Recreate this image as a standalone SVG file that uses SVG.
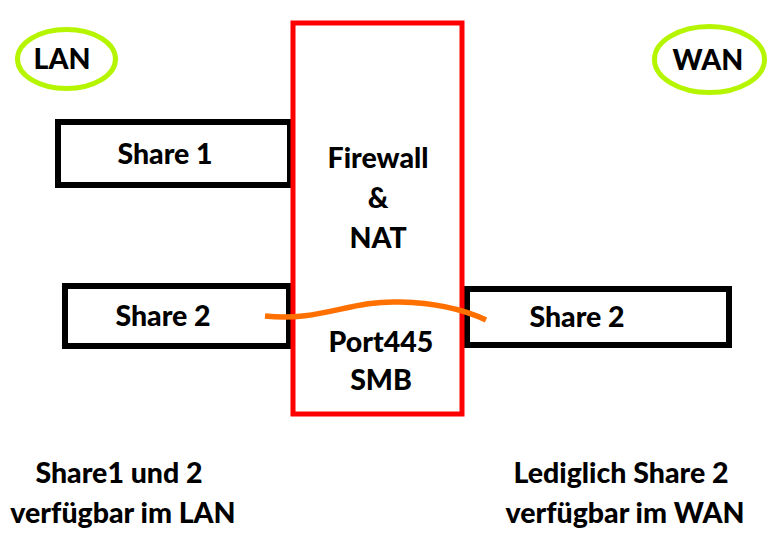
<svg xmlns="http://www.w3.org/2000/svg" width="783" height="536" viewBox="0 0 783 536">
<style>
text{font-family:Lato,"Open Sans","Liberation Sans",sans-serif;font-weight:900;font-size:28.5px;fill:#000;text-anchor:middle}
.box{fill:none;stroke:#000;stroke-width:6}
.net{fill:none;stroke:#b5f500;stroke-width:5}
</style>
<rect width="783" height="536" fill="#fff"/>
<g id="lan"><ellipse class="net" cx="66.5" cy="59" rx="49" ry="29.5"/><text x="62" y="69">LAN</text></g>
<g id="wan"><ellipse class="net" cx="709.5" cy="59.5" rx="55" ry="33"/><text x="708" y="70">WAN</text></g>
<g id="share1"><rect class="box" x="58" y="122" width="232" height="63"/><text x="165" y="164">Share 1</text></g>
<g id="share2-lan"><rect class="box" x="65" y="286" width="224" height="60"/><text x="163" y="326">Share 2</text></g>
<g id="share2-wan"><rect class="box" x="467" y="289" width="262" height="56"/><text x="577" y="327">Share 2</text></g>
<g id="firewall"><rect x="293" y="23" width="169" height="391" fill="none" stroke="#ff0000" stroke-width="5"/>
<text x="378" y="168">Firewall</text><text x="378" y="208">&amp;</text><text x="378" y="248">NAT</text>
<text x="381" y="352">Port445</text><text x="381" y="390">SMB</text></g>
<g id="connectors"><path d="M265,316 C320,322 350,300 400,302 C440,303 465,310 486,320" fill="none" stroke="#ff7000" stroke-width="5.5"/></g>
<g id="notes">
<text x="119" y="483">Share1 und 2</text><text x="123" y="523">verfügbar im LAN</text>
<text x="621" y="483">Lediglich Share 2</text><text x="625" y="523">verfügbar im WAN</text>
</g>
</svg>
